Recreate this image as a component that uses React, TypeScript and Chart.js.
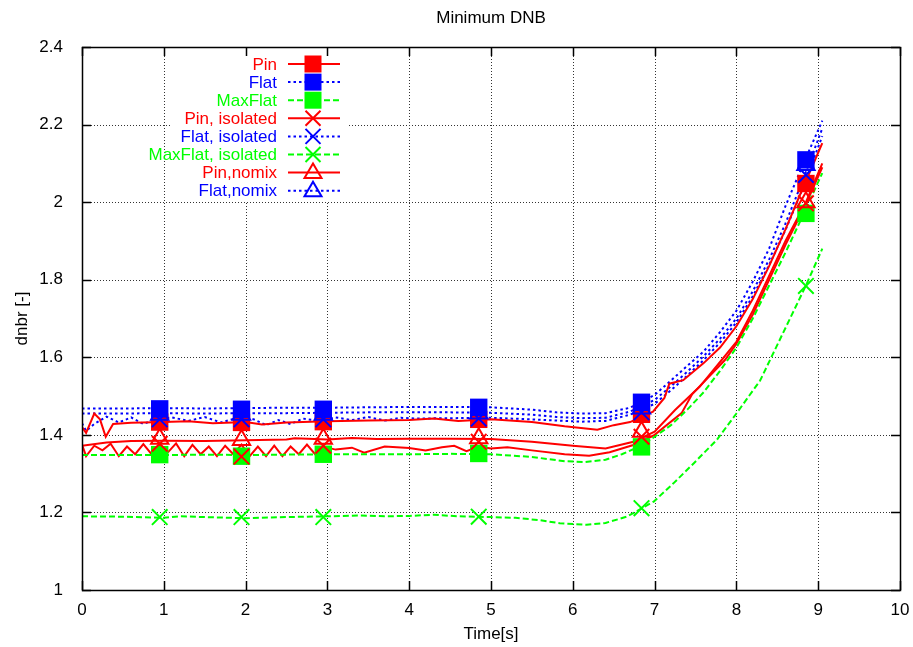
import React, { useEffect, useRef } from "react";
import { Chart, registerables } from "chart.js";

Chart.register(...registerables);

const FONT = '"Liberation Sans", Arial, Helvetica, sans-serif';
const TITLE = "Minimum DNB";
const X_TITLE = "Time[s]";
const Y_TITLE = "dnbr [-]";
const X_TICK_LABELS = ["0", "1", "2", "3", "4", "5", "6", "7", "8", "9", "10"];
const Y_TICK_LABELS = ["1", "1.2", "1.4", "1.6", "1.8", "2", "2.2", "2.4"];

const SERIES_NAMES = [
  "Pin",
  "Flat",
  "MaxFlat",
  "Pin, isolated",
  "Flat, isolated",
  "MaxFlat, isolated",
  "Pin,nomix",
  "Flat,nomix",
];

// ---- line data ----
const PIN_X = [0, 0.05, 0.15, 0.22, 0.29, 0.38, 0.6, 1.0, 1.3, 1.6, 2.0, 2.2, 2.5, 3.0, 3.5, 4.0, 4.3, 4.6, 5.0, 5.5, 5.9, 6.3, 6.5, 6.7, 6.98, 7.12, 7.18, 7.35, 7.6, 7.8, 8.0, 8.2, 8.4, 8.6, 8.8, 9.05];
const PIN_Y = [1.42, 1.405, 1.455, 1.44, 1.395, 1.428, 1.431, 1.433, 1.435, 1.43, 1.433, 1.427, 1.432, 1.435, 1.437, 1.438, 1.442, 1.436, 1.44, 1.433, 1.422, 1.413, 1.425, 1.433, 1.46, 1.495, 1.532, 1.541, 1.585, 1.625, 1.68, 1.75, 1.835, 1.93, 2.03, 2.152];

const FLAT_X = [0, 0.5, 1, 1.5, 2, 2.5, 3, 3.5, 4, 4.5, 5, 5.5, 5.8, 6.1, 6.4, 6.7, 7.0, 7.2, 7.4, 7.6, 7.8, 8.0, 8.2, 8.4, 8.6, 8.8, 9.05];
const FLAT_Y = [1.468, 1.468, 1.469, 1.468, 1.469, 1.47, 1.47, 1.471, 1.472, 1.472, 1.471, 1.465, 1.458, 1.455, 1.456, 1.47, 1.503, 1.54, 1.578, 1.615, 1.665, 1.72, 1.795, 1.88, 1.99, 2.09, 2.21];

const MAXFLAT_X = [0, 0.5, 1, 1.5, 2, 2.5, 3, 3.5, 4, 4.5, 5, 5.5, 5.9, 6.15, 6.4, 6.6, 6.84, 7.0, 7.2, 7.4, 7.6, 7.8, 8.0, 8.2, 8.4, 8.6, 8.8, 9.05];
const MAXFLAT_Y = [1.348, 1.348, 1.348, 1.349, 1.348, 1.349, 1.35, 1.35, 1.35, 1.351, 1.35, 1.343, 1.332, 1.33, 1.336, 1.35, 1.372, 1.395, 1.425, 1.465, 1.51, 1.565, 1.625, 1.7, 1.785, 1.87, 1.96, 2.075];

const PINISO_X = [0, 0.05, 0.15, 0.25, 0.35, 0.45, 0.55, 0.65, 0.75, 0.85, 0.95, 1.05, 1.15, 1.25, 1.35, 1.45, 1.55, 1.65, 1.75, 1.85, 1.95, 2.05, 2.15, 2.25, 2.35, 2.45, 2.55, 2.65, 2.75, 2.85, 2.95, 3.1, 3.3, 3.45, 3.7, 4.0, 4.2, 4.4, 4.55, 4.7, 4.85, 5.0, 5.2, 5.5, 5.9, 6.2, 6.45, 6.74, 7.0, 7.33, 7.46, 7.86, 8.0, 8.2, 8.4, 8.6, 8.85, 9.05];
const PINISO_Y = [1.375, 1.345, 1.372, 1.36, 1.377, 1.345, 1.37, 1.35, 1.376, 1.35, 1.375, 1.355, 1.378, 1.345, 1.374, 1.35, 1.37, 1.345, 1.372, 1.35, 1.375, 1.345, 1.37, 1.345, 1.372, 1.345, 1.37, 1.35, 1.375, 1.35, 1.37, 1.362, 1.367, 1.354, 1.37, 1.366, 1.36, 1.368, 1.372, 1.358, 1.37, 1.365, 1.368, 1.36, 1.35, 1.346, 1.355, 1.374, 1.4, 1.456, 1.505, 1.593, 1.635, 1.71, 1.8, 1.89, 1.995, 2.09];

const FLATISO_X = [0, 0.05, 0.15, 0.3, 0.45, 0.6, 0.75, 0.9, 1.1, 1.3, 1.5, 1.7, 1.9, 2.1, 2.25, 2.4, 2.55, 2.7, 2.9, 3.1, 3.3, 3.5, 3.7, 3.9, 4.1, 4.5, 5.0, 5.5, 5.8, 6.1, 6.4, 6.7, 7.0, 7.2, 7.4, 7.6, 7.8, 8.0, 8.2, 8.4, 8.6, 8.8, 9.05];
const FLATISO_Y = [1.43, 1.41, 1.428, 1.447, 1.432, 1.445, 1.428, 1.44, 1.445, 1.436, 1.446, 1.432, 1.444, 1.44, 1.425, 1.438, 1.428, 1.442, 1.436, 1.445, 1.438, 1.446, 1.437, 1.444, 1.442, 1.443, 1.444, 1.44, 1.437, 1.434, 1.436, 1.452, 1.48, 1.515, 1.553, 1.593, 1.638, 1.69, 1.757, 1.838, 1.928, 2.03, 2.17];

const MAXISO_X = [0, 0.5, 1, 1.2, 1.5, 2, 2.5, 3, 3.4, 3.7, 4, 4.3, 4.6, 5, 5.3, 5.6, 5.84, 6.17, 6.4, 6.66, 6.99, 7.23, 7.48, 7.76, 8.0, 8.29, 8.5, 8.85, 9.05];
const MAXISO_Y = [1.19, 1.189, 1.186, 1.19, 1.188, 1.185, 1.188, 1.19, 1.192, 1.19, 1.191, 1.194, 1.19, 1.188, 1.186, 1.18, 1.172, 1.168, 1.173, 1.189, 1.228, 1.275, 1.327, 1.387, 1.455, 1.54, 1.632, 1.785, 1.88];

const PINNOMIX_X = [0, 0.3, 0.6, 1.0, 1.5, 2.0, 2.5, 2.6, 3.0, 3.3, 3.6, 4.0, 4.5, 5.0, 5.5, 6.0, 6.4, 6.74, 7.0, 7.25, 7.55, 7.82, 8.0, 8.2, 8.4, 8.6, 8.85, 9.05];
const PINNOMIX_Y = [1.372, 1.38, 1.384, 1.385, 1.384, 1.386, 1.388, 1.391, 1.388, 1.392, 1.389, 1.39, 1.39, 1.389, 1.382, 1.372, 1.365, 1.382, 1.408, 1.464, 1.524, 1.593, 1.64, 1.72, 1.81, 1.9, 2.0, 2.1];

const FLATNOMIX_X = [0, 0.5, 1, 1.5, 2, 2.5, 3, 3.5, 4, 4.5, 5, 5.5, 5.8, 6.1, 6.4, 6.7, 7.0, 7.2, 7.4, 7.6, 7.8, 8.0, 8.2, 8.4, 8.6, 8.8, 9.05];
const FLATNOMIX_Y = [1.455, 1.455, 1.456, 1.455, 1.456, 1.456, 1.457, 1.458, 1.458, 1.458, 1.457, 1.452, 1.446, 1.443, 1.444, 1.46, 1.49, 1.525, 1.563, 1.603, 1.648, 1.7, 1.77, 1.852, 1.945, 2.05, 2.19];

// ---- marker data ----
const MARKER_X = [0.95, 1.95, 2.95, 4.85, 6.84, 8.85];
const PIN_PTS = [1.433, 1.432, 1.434, 1.44, 1.453, 2.048];
const FLAT_PTS = [1.467, 1.466, 1.466, 1.471, 1.484, 2.109];
const MAXFLAT_PTS = [1.349, 1.345, 1.35, 1.352, 1.369, 1.971];
const PINISO_PTS = [1.377, 1.344, 1.372, 1.382, 1.395, 1.997];
const FLATISO_PTS = [1.44, 1.44, 1.44, 1.442, 1.458, 2.07];
const MAXISO_PTS = [1.188, 1.188, 1.188, 1.189, 1.211, 1.784];
const PINNOMIX_PTS = [1.39, 1.387, 1.39, 1.391, 1.408, 2.0];
const FLATNOMIX_PTS = [1.452, 1.452, 1.452, 1.455, 1.468, 2.096];

const RED = "#ff0000";
const BLUE = "#0000ff";
const GREEN = "#00ff00";
const SOLID: number[] = [];
const DOTTED = [2.5, 3];
const DASHED = [6, 3];

type Marker = "sq" | "x" | "tri";
const STYLES: { color: string; dash: number[]; marker: Marker }[] = [
  { color: RED, dash: SOLID, marker: "sq" },
  { color: BLUE, dash: DOTTED, marker: "sq" },
  { color: GREEN, dash: DASHED, marker: "sq" },
  { color: RED, dash: SOLID, marker: "x" },
  { color: BLUE, dash: DOTTED, marker: "x" },
  { color: GREEN, dash: DASHED, marker: "x" },
  { color: RED, dash: SOLID, marker: "tri" },
  { color: BLUE, dash: DOTTED, marker: "tri" },
];

const LINES: [number[], number[]][] = [
  [PIN_X, PIN_Y],
  [FLAT_X, FLAT_Y],
  [MAXFLAT_X, MAXFLAT_Y],
  [PINISO_X, PINISO_Y],
  [FLATISO_X, FLATISO_Y],
  [MAXISO_X, MAXISO_Y],
  [PINNOMIX_X, PINNOMIX_Y],
  [FLATNOMIX_X, FLATNOMIX_Y],
];
const POINTS: number[][] = [PIN_PTS, FLAT_PTS, MAXFLAT_PTS, PINISO_PTS, FLATISO_PTS, MAXISO_PTS, PINNOMIX_PTS, FLATNOMIX_PTS];
// drawing order of markers (lower = on top)
const MARKER_ORDER = [6, 4, 7, 2, 5, 1, 3, 0];

function legendMarker(ctx: CanvasRenderingContext2D, m: Marker, x: number, y: number, color: string) {
  ctx.save();
  ctx.setLineDash([]);
  ctx.strokeStyle = color;
  ctx.fillStyle = color;
  ctx.lineWidth = 2;
  if (m === "sq") {
    ctx.fillRect(x - 8.5, y - 8.5, 17, 17);
  } else if (m === "x") {
    ctx.beginPath();
    ctx.moveTo(x - 7.5, y - 7.5);
    ctx.lineTo(x + 7.5, y + 7.5);
    ctx.moveTo(x + 7.5, y - 7.5);
    ctx.lineTo(x - 7.5, y + 7.5);
    ctx.stroke();
  } else {
    ctx.beginPath();
    ctx.moveTo(x, y - 9);
    ctx.lineTo(x + 8.5, y + 5.5);
    ctx.lineTo(x - 8.5, y + 5.5);
    ctx.closePath();
    ctx.stroke();
  }
  ctx.restore();
}

const decor = {
  id: "decor",
  beforeDatasetsDraw(chart: any) {
    const { ctx, chartArea: a, scales } = chart;
    const xs = scales.x;
    const ys = scales.y;
    ctx.save();
    ctx.strokeStyle = "#333";
    ctx.lineWidth = 1;
    ctx.setLineDash([1, 2]);
    xs.ticks.forEach((t: any) => {
      const px = Math.round(xs.getPixelForValue(t.value)) + 0.5;
      if (px <= a.left + 2 || px >= a.right - 2) return;
      ctx.beginPath();
      ctx.moveTo(px, a.top);
      ctx.lineTo(px, a.bottom);
      ctx.stroke();
    });
    ys.ticks.forEach((t: any) => {
      const py = Math.round(ys.getPixelForValue(t.value)) + 0.5;
      if (py <= a.top + 2 || py >= a.bottom - 2) return;
      ctx.beginPath();
      ctx.moveTo(a.left, py);
      ctx.lineTo(a.right, py);
      ctx.stroke();
    });
    ctx.restore();
  },
  afterDatasetsDraw(chart: any) {
    const { ctx, chartArea: a, scales } = chart;
    const xs = scales.x;
    const ys = scales.y;
    ctx.save();
    // legend
    ctx.fillStyle = "#fff";
    ctx.fillRect(170, 49, 178, 152);
    ctx.font = `17px ${FONT}`;
    ctx.textAlign = "right";
    ctx.textBaseline = "middle";
    SERIES_NAMES.forEach((name, i) => {
      const st = STYLES[i];
      const y = 64 + i * 18.1;
      ctx.fillStyle = st.color;
      ctx.fillText(name, 277, y + 1);
      ctx.strokeStyle = st.color;
      ctx.lineWidth = 2;
      ctx.setLineDash(st.dash);
      ctx.beginPath();
      ctx.moveTo(288, y);
      ctx.lineTo(340, y);
      ctx.stroke();
      legendMarker(ctx, st.marker, 313, y, st.color);
    });
    ctx.setLineDash([]);
    // border
    ctx.strokeStyle = "#000";
    ctx.lineWidth = 1.5;
    ctx.strokeRect(Math.round(a.left) + 0.5, Math.round(a.top) + 0.5, Math.round(a.right - a.left), Math.round(a.bottom - a.top));
    // inward ticks
    ctx.lineWidth = 1.5;
    const tl = 9;
    xs.ticks.forEach((t: any) => {
      const px = Math.round(xs.getPixelForValue(t.value)) + 0.5;
      ctx.beginPath();
      ctx.moveTo(px, a.bottom);
      ctx.lineTo(px, a.bottom - tl);
      ctx.moveTo(px, a.top);
      ctx.lineTo(px, a.top + tl);
      ctx.stroke();
    });
    ys.ticks.forEach((t: any) => {
      const py = Math.round(ys.getPixelForValue(t.value)) + 0.5;
      ctx.beginPath();
      ctx.moveTo(a.left, py);
      ctx.lineTo(a.left + tl, py);
      ctx.moveTo(a.right, py);
      ctx.lineTo(a.right - tl, py);
      ctx.stroke();
    });
    // titles
    ctx.fillStyle = "#000";
    ctx.textAlign = "center";
    ctx.textBaseline = "middle";
    ctx.font = `17px ${FONT}`;
    const cx = (a.left + a.right) / 2;
    ctx.fillText(TITLE, cx, 18);
    ctx.fillText(X_TITLE, cx, 634);
    ctx.translate(22, (a.top + a.bottom) / 2);
    ctx.rotate(-Math.PI / 2);
    ctx.fillText(Y_TITLE, 0, 0);
    ctx.restore();
  },
};

export default function App() {
  const ref = useRef<HTMLCanvasElement | null>(null);
  useEffect(() => {
    if (!ref.current) return;
    const datasets: any[] = [];
    LINES.forEach(([xs, ys], i) => {
      datasets.push({
        label: SERIES_NAMES[i],
        data: xs.map((x, k) => ({ x, y: ys[k] })),
        borderColor: STYLES[i].color,
        borderWidth: 2,
        borderDash: STYLES[i].dash,
        pointRadius: 0,
        fill: false,
        tension: 0,
        order: 20 + i,
      });
    });
    POINTS.forEach((pts, i) => {
      const m = STYLES[i].marker;
      datasets.push({
        label: SERIES_NAMES[i] + " pts",
        data: MARKER_X.map((x, k) => ({ x, y: pts[k] })),
        showLine: false,
        pointStyle: m === "sq" ? "rect" : m === "x" ? "crossRot" : "triangle",
        pointRadius: m === "sq" ? 12.3 : m === "x" ? 11 : 10,
        pointHoverRadius: m === "sq" ? 12.3 : m === "x" ? 11 : 10,
        pointBackgroundColor: m === "sq" ? STYLES[i].color : "rgba(0,0,0,0)",
        pointBorderColor: STYLES[i].color,
        pointBorderWidth: m === "sq" ? 0 : 2,
        borderColor: STYLES[i].color,
        order: MARKER_ORDER[i],
      });
    });
    const chart = new Chart(ref.current, {
      type: "line",
      data: { datasets },
      options: {
        animation: false,
        responsive: false,
        devicePixelRatio: 1,
        events: [],
        layout: { padding: { left: 0, top: 47, right: 13, bottom: 0 } },
        plugins: { legend: { display: false }, title: { display: false }, tooltip: { enabled: false } },
        scales: {
          x: {
            type: "linear",
            min: 0,
            max: 10,
            grid: { display: false },
            border: { display: false },
            afterFit: (s: any) => {
              s.height = 57;
            },
            ticks: {
              stepSize: 1,
              autoSkip: false,
              maxRotation: 0,
              padding: 2,
              color: "#000",
              font: { family: FONT, size: 17 },
              callback: (_v: any, i: number) => X_TICK_LABELS[i],
            },
          },
          y: {
            type: "linear",
            min: 1,
            max: 2.4,
            grid: { display: false },
            border: { display: false },
            afterFit: (s: any) => {
              s.width = 82;
            },
            ticks: {
              stepSize: 0.2,
              autoSkip: false,
              padding: 11,
              color: "#000",
              font: { family: FONT, size: 17 },
              callback: (_v: any, i: number) => Y_TICK_LABELS[i],
            },
          },
        },
      },
      plugins: [decor],
    });
    return () => chart.destroy();
  }, []);
  return (
    <div style={{ position: "absolute", left: 0, top: 0, width: 913, height: 647, background: "#fff" }}>
      <canvas ref={ref} width={913} height={647} style={{ width: 913, height: 647, display: "block" }} />
    </div>
  );
}
